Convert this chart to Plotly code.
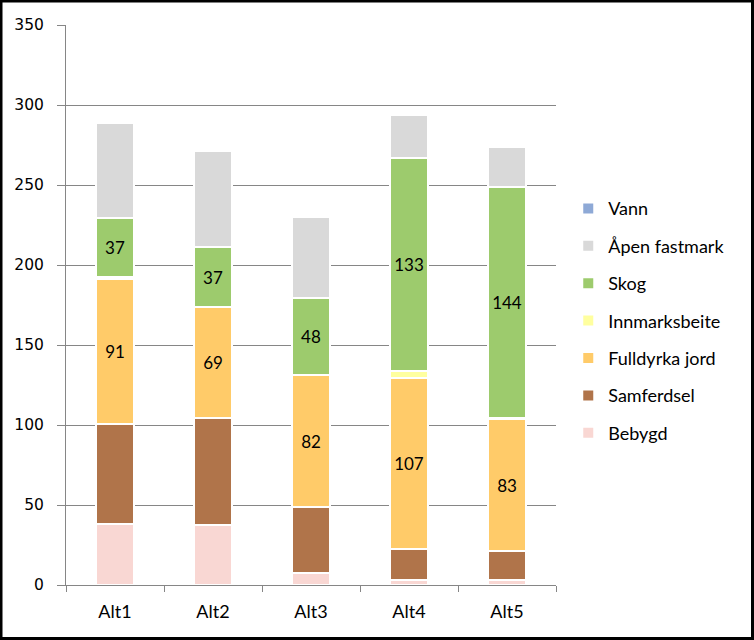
import plotly.graph_objects as go

categories = ["Alt1", "Alt2", "Alt3", "Alt4", "Alt5"]
bebygd = [38, 37.5, 7.5, 3, 3]
samferdsel = [62.5, 67, 41.5, 19.5, 18]
fulldyrka = [91, 69, 82, 107, 83]
innmarksbeite = [1, 0.5, 0.5, 4.5, 0.5]
skog = [37, 37, 48, 133, 144]
apen = [59, 60, 50.5, 27, 25.5]
vann = [0, 0, 0, 0, 0]

series = [
    ("Bebygd", bebygd, "#F9D7D3", False),
    ("Samferdsel", samferdsel, "#B0744A", False),
    ("Fulldyrka jord", fulldyrka, "#FFCB69", True),
    ("Innmarksbeite", innmarksbeite, "#FFFF9F", False),
    ("Skog", skog, "#9DCB6D", True),
    ("Åpen fastmark", apen, "#D9D9D9", False),
    ("Vann", vann, "#8EA9D6", False),
]

fig = go.Figure()
n = len(series)
for i, (name, vals, color, lab) in enumerate(series):
    fig.add_trace(go.Bar(
        x=categories, y=vals, name=name,
        marker=dict(color=color, line=dict(color="white", width=2)),
        text=[f"{v:g}" for v in vals] if lab else None,
        textposition="inside" if lab else "none",
        insidetextanchor="middle",
        textangle=0,
        constraintext="none",
        textfont=dict(family="Lato", size=17, color="black"),
        legendgroup=name,
        legendrank=n - i,
        hoverinfo="name+y",
    ))

fig.update_layout(
    width=754, height=640,
    barmode="stack", bargap=0.61,
    paper_bgcolor="white", plot_bgcolor="white",
    margin=dict(l=66, r=198, t=25, b=55),
    showlegend=True,
    legend=dict(
        traceorder="grouped", tracegroupgap=11,
        x=1.025, xanchor="left", y=0.705, yanchor="top",
        font=dict(family="Lato", size=18, color="black"),
        bgcolor="rgba(0,0,0,0)",
        itemwidth=30,
    ),
    yaxis=dict(
        range=[0, 350], dtick=50, showgrid=True, gridcolor="#868686", gridwidth=1,
        showline=True, linecolor="#868686", linewidth=1,
        ticks="outside", ticklen=8, tickcolor="#868686",
        ticklabelstandoff=10,
        tickfont=dict(family="DejaVu Sans", size=15.5, color="black"),
        zeroline=False,
    ),
    xaxis=dict(
        showline=True, linecolor="#868686", linewidth=1,
        ticks="outside", ticklen=6, tickcolor="#868686", tickson="boundaries",
        ticklabelstandoff=10,
        tickfont=dict(family="Lato", size=18, color="black"),
        showgrid=False,
    ),
    shapes=[dict(type="rect", xref="paper", yref="paper", x0=-66/490 + 1/490, x1=1+198/490 - 1.5/490,
                 y0=-55/560 + 1.5/560, y1=1+25/560 - 1/560, line=dict(color="black", width=3))],
)

fig.write_html("out.html", config={"displayModeBar": False},
               post_script="document.body.style.margin='0';document.body.style.padding='0';")
